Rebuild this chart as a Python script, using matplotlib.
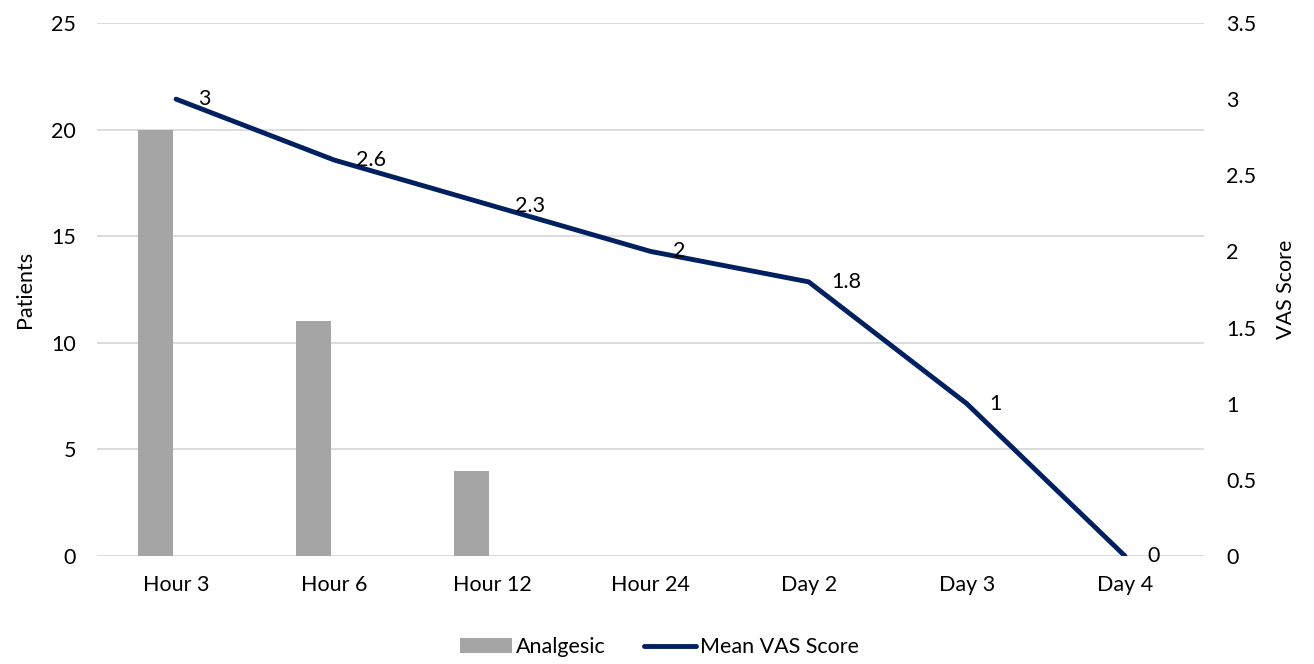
import matplotlib
matplotlib.use("Agg")
import matplotlib.pyplot as plt
import numpy as np
from matplotlib.lines import Line2D
from matplotlib.patches import Patch

categories = ["Hour 3", "Hour 6", "Hour 12", "Hour 24", "Day 2", "Day 3", "Day 4"]
analgesic = [20, 11, 4, 0, 0, 0, 0]
mean_vas = [3, 2.6, 2.3, 2, 1.8, 1, 0]

plt.rcParams['font.family'] = ['Lato', 'DejaVu Sans']
plt.rcParams['font.size'] = 15.5

BAR_COLOR = "#A5A5A5"
LINE_COLOR = "#002060"
GRID_COLOR = "#D9D9D9"
TEXT_COLOR = "#000000"

fig = plt.figure(figsize=(13.14, 6.64), dpi=100)
ax = fig.add_axes([0.0738, 0.1627, 0.8425, 0.8027])
ax2 = ax.twinx()

x = np.arange(len(categories))
ax.bar(x - 0.13, analgesic, width=0.22, color=BAR_COLOR, zorder=2)
ax.set_xlim(-0.5, len(categories) - 0.5)
ax.set_ylim(0, 25)
ax.set_yticks(np.arange(0, 26, 5))
ax.yaxis.grid(True, color=GRID_COLOR, linewidth=1.3)
ax.set_axisbelow(True)
ax.set_xticks(x)
ax.set_xticklabels(categories)
ax.tick_params(axis='x', length=0, pad=14)
ax.tick_params(axis='y', length=0, pad=15)
ax.set_ylabel("Patients", labelpad=12)

ax2.plot(x, mean_vas, color=LINE_COLOR, linewidth=3.5, solid_capstyle='round', zorder=3)
for xi, v in zip(x, mean_vas):
    ax2.annotate(f"{v:g}", (xi, v), xytext=(16, 0), textcoords='offset points',
                 ha='left', va='center', fontsize=15.5, color=TEXT_COLOR)
ax2.set_ylim(0, 3.5)
ax2.set_yticks(np.arange(0, 3.51, 0.5))
ax2.set_yticklabels([f"{t:g}" for t in np.arange(0, 3.51, 0.5)])
ax2.tick_params(axis='y', length=0, pad=16)
ax2.set_ylabel("VAS Score", labelpad=14)

for a in (ax, ax2):
    for s in a.spines.values():
        s.set_visible(False)

handles = [Patch(facecolor=BAR_COLOR, edgecolor='none'),
           Line2D([0], [0], color=LINE_COLOR, linewidth=3.5, solid_capstyle='round')]
fig.legend(handles, ["Analgesic", "Mean VAS Score"], loc='center',
           bbox_to_anchor=(0.502, 0.025), ncol=2, frameon=False,
           handlelength=2.4, handletextpad=0.2, columnspacing=1.8, fontsize=15.5)

fig.savefig("out.png", dpi=100)
